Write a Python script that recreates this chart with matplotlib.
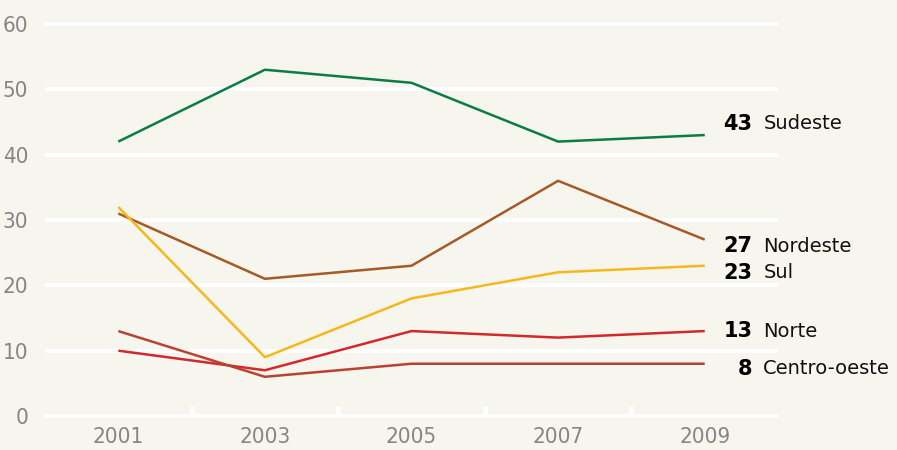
import matplotlib.pyplot as plt
import numpy as np

years = [2001, 2003, 2005, 2007, 2009]
sudeste = [42, 53, 51, 42, 43]
nordeste = [31, 21, 23, 36, 27]
sul = [32, 9, 18, 22, 23]
norte = [10, 7, 13, 12, 13]
centro_oeste = [13, 6, 8, 8, 8]

names = ['Sudeste', 'Nordeste', 'Sul', 'Norte', 'Centro-oeste']
series = [sudeste, nordeste, sul, norte, centro_oeste]
colors = ['#0b7d42', '#a65a26', '#f6b81c', '#d3282c', '#b94232']
label_y = [44.7, 26.0, 21.9, 13.0, 7.2]

y_ticks = [0, 10, 20, 30, 40, 50, 60]
minor_x = [2002, 2004, 2006, 2008]

bg = '#f6f5ee'
fig = plt.figure(figsize=(8.97, 4.5), dpi=100, facecolor=bg)
ax = fig.add_axes([45 / 897, 34 / 450, 733 / 897, 392 / 450], facecolor=bg)

ax.set_xlim(2000, 2010)
ax.set_ylim(0, 60)

for y in y_ticks:
    ax.axhline(y, color='white', lw=3.0, zorder=1, clip_on=False, solid_capstyle='butt')
ax.vlines(minor_x, 0, 1.5, color='white', lw=3.6, zorder=1, clip_on=False)

for vals, c in zip(series, colors):
    ax.plot(years, vals, color=c, lw=1.8, zorder=3, solid_capstyle='butt')

for vals, name, ly in zip(series, names, label_y):
    ax.text(2010.0 - 0.35, ly, str(vals[-1]), ha='right', va='center',
            fontsize=15, fontweight='bold', color='black', clip_on=False)
    ax.text(2010.0 - 0.2, ly, name, ha='left', va='center',
            fontsize=14, color='#111111', clip_on=False)

ax.set_yticks(y_ticks)
ax.set_yticklabels([str(v) for v in y_ticks], fontsize=16, color='#858585',
                   stretch='condensed', fontweight='light')
ax.set_xticks(years)
ax.set_xticklabels([str(v) for v in years], fontsize=16, color='#858585',
                   stretch='condensed', fontweight='light')
ax.tick_params(length=0)
ax.tick_params(axis='y', pad=12)
ax.tick_params(axis='x', pad=8)
for s in ax.spines.values():
    s.set_visible(False)

fig.savefig('out.png', dpi=100, facecolor=bg)
